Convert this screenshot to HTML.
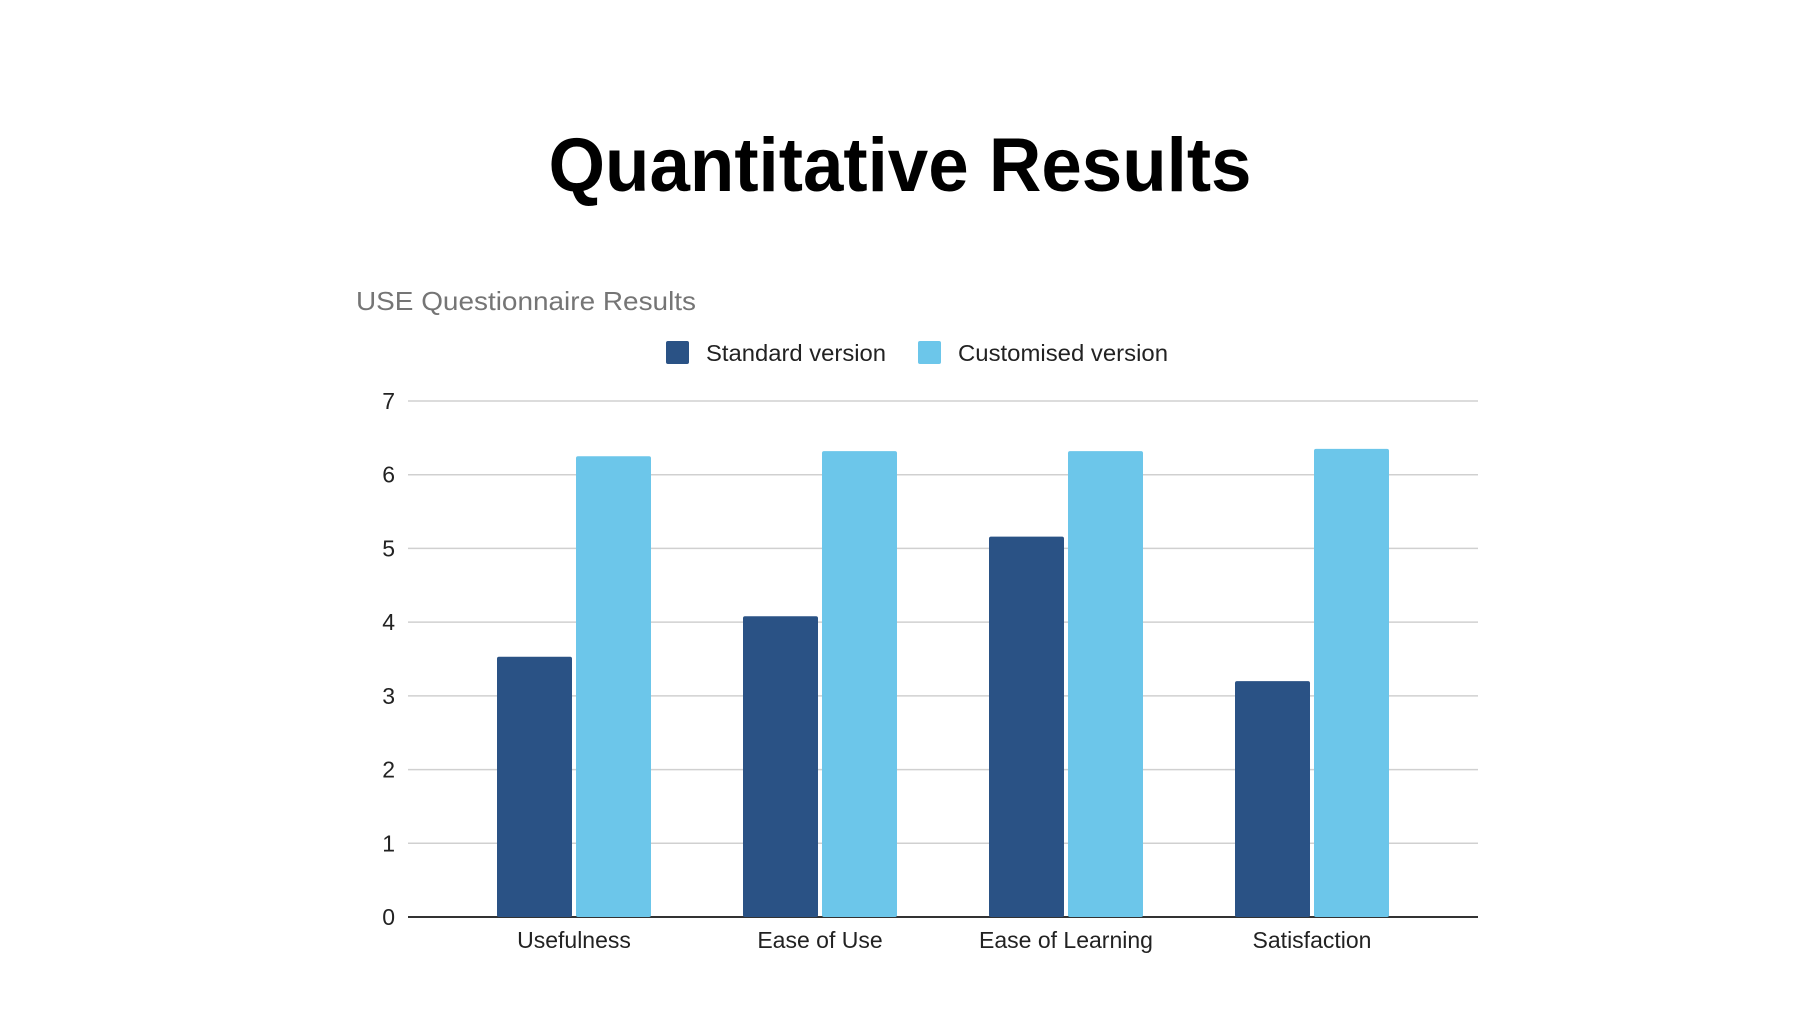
<!DOCTYPE html>
<html><head><meta charset="utf-8"><style>
html,body{margin:0;padding:0;background:#fff;}
svg{display:block;font-family:"Liberation Sans",Arial,sans-serif;}
</style></head><body>
<svg id="chart" width="1800" height="1014" viewBox="0 0 1800 1014">
<text x="900" y="191" text-anchor="middle" font-size="76" font-weight="bold" fill="#000" textLength="703" lengthAdjust="spacingAndGlyphs">Quantitative Results</text>
<text x="356" y="310" font-size="26" fill="#757575" textLength="340" lengthAdjust="spacingAndGlyphs">USE Questionnaire Results</text>
<g>
<rect x="666" y="341" width="23" height="23" rx="2" fill="#2a5285"/>
<text x="706" y="361" font-size="23" fill="#222" textLength="180" lengthAdjust="spacingAndGlyphs">Standard version</text>
<rect x="918" y="341" width="23" height="23" rx="2" fill="#6cc6ea"/>
<text x="958" y="361" font-size="23" fill="#222" textLength="210" lengthAdjust="spacingAndGlyphs">Customised version</text>
</g>
<g id="grid"></g><g id="bars"></g><g id="labels"></g>
</svg>
<script>
const categories = ["Usefulness","Ease of Use","Ease of Learning","Satisfaction"];
const standardValues = [3.53, 4.08, 5.16, 3.2];
const customisedValues = [6.25, 6.32, 6.32, 6.35];
const yTicks = [0,1,2,3,4,5,6,7];
const NS="http://www.w3.org/2000/svg";
const x0=408,x1=1478,yBase=917,yTop=401,yMax=7;
function y(v){return yBase-(yBase-yTop)*v/yMax;}
const pad=166, step=(x1-x0-2*pad)/(categories.length-1);
function cx(i){return x0+pad+i*step;}
const bw=75,gap=4;
function mk(tag,attrs,parent){const e=document.createElementNS(NS,tag);for(const k in attrs)e.setAttribute(k,attrs[k]);parent.appendChild(e);return e;}
const grid=document.getElementById('grid'),bars=document.getElementById('bars'),labels=document.getElementById('labels');
yTicks.forEach(t=>{
  const l=mk('line',{x1:x0,x2:x1,y1:y(t),y2:y(t),stroke:t===0?'#333':'#d0d0d0','stroke-width':t===0?2:1.5},grid);
  
  
  const tx=mk('text',{x:395,y:y(t)+8,'text-anchor':'end','font-size':23,fill:'#222'},labels);
  tx.textContent=t;
  
  
});
categories.forEach((c,i)=>{
  const c0=cx(i);
  const b1=mk('rect',{x:c0-gap/2-bw,y:y(standardValues[i]),width:bw,height:yBase-y(standardValues[i]),fill:'#2a5285',rx:2},bars);
  
  
  const b2=mk('rect',{x:c0+gap/2,y:y(customisedValues[i]),width:bw,height:yBase-y(customisedValues[i]),fill:'#6cc6ea',rx:2},bars);
  
  
  const tx=mk('text',{x:c0,y:948,'text-anchor':'middle','font-size':23,fill:'#222'},labels);
  tx.textContent=c;
  
  
});
</script>
</body></html>
